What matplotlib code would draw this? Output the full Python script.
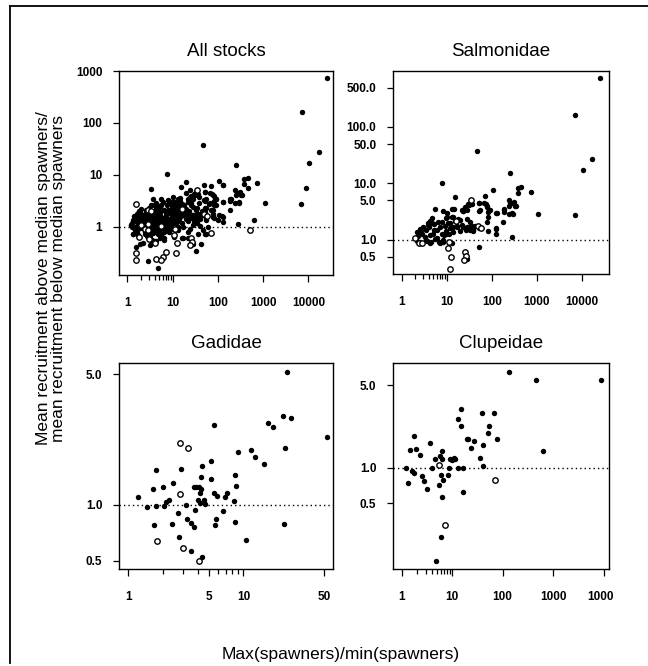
import matplotlib
matplotlib.use("Agg")
import matplotlib.pyplot as plt
from matplotlib.lines import Line2D
from matplotlib.ticker import NullFormatter
from matplotlib.transforms import Bbox, TransformedBbox, blended_transform_factory

plt.rcParams['font.family'] = ['Liberation Sans', 'DejaVu Sans']

# --- donnees : (max/min spawners, ratio de recrutement) ---
salmo_filled = [
    (25500, 727), (7200, 161), (16900, 27.5), (10500, 17.1), (6980, 2.74),
    (47, 38), (7.7, 10.3), (251, 15.3), (736, 7.07), (455, 8.56), (384, 8.3),
    (378, 6.7), (107, 7.77), (70, 6.1), (1070, 2.88), (283, 1.13), (52, 0.74),
    (15.3, 5.8), (182, 2.1), (127, 2.96), (127, 1.57), (127, 1.26), (188, 3.4),
    (188, 3.1), (240, 5.1), (258, 4.45), (313, 4.75), (347, 4.05), (292, 2.85),
    (240, 2.85), (81, 1.46),
    (5.5, 3.5), (8.4, 3.2), (10.0, 3.05), (14.8, 3.6), (23.4, 3.2), (27.8, 3.4),
    (31, 4.2), (36, 4.3), (53, 4.6), (68, 4.45), (77, 4.05), (53, 3.2), (84, 3.1),
    (93, 3.4), (84, 2.6), (77, 2.1), (53, 1.65), (36, 1.8), (33, 1.5), (39, 1.46),
    (27, 1.5), (28, 1.7), (23, 3.2), (20, 2.26), (21.5, 1.84), (13.6, 2.6),
    (15.3, 2.2), (16.7, 1.72), (14.1, 1.4), (10, 2.6), (10.9, 2.0), (11.9, 1.6),
    (9.7, 1.3), (6.5, 2.1), (7.1, 1.72), (7.7, 1.3), (6.0, 1.5), (8.4, 1.0),
    (4.6, 2.0), (5.1, 1.5), (4.3, 1.23), (5.5, 1.03), (3.5, 1.5), (3.9, 1.84),
    (3.3, 1.15), (2.8, 1.3), (3.7, 0.97), (2.55, 1.55), (2.15, 1.4), (4.3, 0.87),
    (4.5, 0.93), (7.1, 0.87), (8.2, 0.93), (12.9, 0.87), (27.8, 0.47),
    (29, 4.3), (51, 4.6), (74, 4.3), (80, 3.9), (89, 3.4), (55, 3.4), (12.9, 3.5),
    (25.5, 3.9), (21.5, 3.4), (129, 3.05), (190, 3.5), (247, 4.05), (300, 4.45),
    (325, 4.05), (288, 2.96), (125, 1.6), (42, 1.75), (38, 1.5), (28, 2.4),
    (33, 2.1), (30, 1.7), (18, 2.4), (17, 1.8), (23, 1.7), (20, 1.45), (13, 2.6),
    (12, 2.0), (13.5, 1.7), (11.5, 1.3), (8.0, 2.1), (9.5, 2.5), (9.0, 1.8),
    (9.8, 1.45), (8.6, 1.25), (6.8, 0.92), (4.8, 2.5), (4.2, 2.2), (5.3, 1.9),
    (3.8, 2.0), (4.0, 1.7), (5.0, 1.3), (2.7, 1.5), (2.9, 1.7), (2.6, 1.35),
    (2.3, 1.2), (2.2, 0.97), (3.4, 1.0), (6.0, 1.1),
]
salmo_open = [
    (34, 5.2), (2.0, 1.07), (2.47, 0.9), (2.8, 0.87), (11.3, 0.93), (10.9, 0.71),
    (12.3, 0.49), (12.0, 0.31), (25.5, 0.62), (26.9, 0.52), (24, 0.44),
    (49, 1.8), (57, 1.6), (16, 2.2),
]

gadid_filled = [
    (24.1, 5.13), (5.6, 2.66), (16.5, 2.75), (17.9, 2.59), (22, 2.97), (25.8, 2.92),
    (53, 2.29), (23.2, 2.01), (8.9, 1.91), (11.7, 1.96), (12.5, 1.79), (15.1, 1.65),
    (5.27, 1.71), (4.37, 1.62), (1.73, 1.54), (2.87, 1.55), (4.31, 1.4), (5.27, 1.38),
    (8.4, 1.44), (8.7, 1.26), (2.43, 1.31), (1.64, 1.22), (2.0, 1.24), (3.7, 1.25),
    (3.9, 1.25), (4.1, 1.25), (4.3, 1.22), (4.2, 1.15), (1.22, 1.1), (5.52, 1.16),
    (5.86, 1.12), (6.9, 1.1), (7.2, 1.16), (8.3, 1.05), (2.14, 1.03), (2.27, 1.06),
    (4.05, 1.06), (4.2, 1.02), (4.5, 1.06), (4.6, 1.01), (1.75, 0.98), (2.03, 0.98),
    (1.44, 0.97), (3.18, 1.0), (2.69, 0.9), (3.8, 0.94), (6.6, 0.92), (3.24, 0.84),
    (5.82, 0.84), (8.5, 0.81), (1.67, 0.78), (2.41, 0.79), (3.53, 0.8), (3.73, 0.76),
    (5.71, 0.78), (22.4, 0.79), (2.74, 0.67), (10.6, 0.65), (3.51, 0.565),
    (4.37, 0.527),
]
gadid_open = [(2.83, 2.15), (3.28, 2.0), (2.83, 1.14), (1.79, 0.64), (3.01, 0.59),
              (4.12, 0.5)]

clupe_filled = [
    (131, 6.5), (463, 5.57), (8700, 5.57), (14.9, 3.16), (38.9, 2.89), (66, 2.92),
    (13.2, 2.6), (14.9, 2.26), (54, 2.27), (52, 1.98), (78, 1.74), (1.75, 1.86),
    (19.4, 1.74), (21, 1.76), (26.7, 1.67), (3.58, 1.61), (1.46, 1.42), (1.92, 1.43),
    (23.2, 1.46), (40, 1.57), (637, 1.39), (2.3, 1.27), (6.28, 1.39), (4.63, 1.18),
    (5.65, 1.26), (6.28, 1.18), (8.9, 1.19), (9.9, 1.16), (10.9, 1.22), (11.5, 1.18),
    (35, 1.21), (41, 1.04), (1.24, 1.0), (1.6, 0.94), (1.75, 0.90), (3.98, 1.0),
    (8.5, 1.0), (13, 0.99), (16.6, 0.99), (2.56, 0.85), (2.77, 0.77), (1.33, 0.74),
    (3.13, 0.66), (5.9, 0.87), (6.5, 0.79), (5.55, 0.72), (8.4, 0.87), (16.4, 0.62),
    (6.4, 0.57), (6.1, 0.257), (4.84, 0.161),
]
clupe_open = [(5.48, 1.05), (69.5, 0.78), (7.3, 0.33)]

# stocks des autres familles (visibles seulement dans "All stocks")
other_filled = [
    (3.3, 5.3), (20, 7.4), (100, 1.35), (108, 1.68), (42, 0.48), (33, 0.35),
    (2.9, 0.22), (128, 6.4), (50, 6.4), (1.58, 0.41), (1.87, 0.46), (2.2, 0.49),
    (3.1, 0.44), (3.4, 0.57), (4.0, 0.54), (5.4, 0.6), (6.6, 0.62), (1.72, 0.69),
    (2.4, 0.74), (4.75, 0.74), (16.9, 0.62), (21.8, 0.62), (3.4, 2.6), (3.7, 3.5),
    (2.6, 2.1), (2.0, 1.8), (1.72, 1.56), (1.33, 1.35), (1.23, 1.08), (1.45, 0.89),
    (1.33, 0.74), (7.9, 3.3), (10.2, 3.8), (12.1, 3.05), (20, 4.4), (23.7, 3.8),
    (33, 4.75), (39, 3.8), (50, 3.3), (65, 2.8), (71, 2.1), (92, 2.6), (77, 1.56),
    (55, 1.35), (60, 1.0), (46, 0.86), (36, 0.74), (55, 0.74), (23.7, 0.93),
    (28, 1.08), (2.2, 1.3), (2.5, 1.1), (2.8, 1.6), (3.0, 2.3), (3.5, 1.9),
    (3.9, 1.4), (4.3, 1.1), (4.8, 1.8), (5.2, 2.4), (5.8, 1.5), (6.3, 1.2),
    (6.9, 2.0), (7.5, 2.6), (8.1, 1.4), (8.8, 1.1), (9.5, 2.2), (10.5, 1.7),
    (11.5, 2.4), (12.5, 1.25), (13.8, 2.0), (1.3, 1.2), (1.5, 1.0), (1.7, 1.15),
    (1.9, 1.4), (2.1, 0.95), (2.4, 0.85), (2.7, 1.0), (3.1, 0.9), (3.6, 0.8),
    (4.1, 0.92), (4.6, 0.85), (5.1, 0.95), (5.7, 0.82), (6.1, 0.97), (7.0, 0.88),
    (7.8, 0.95), (9.0, 0.9), (1.4, 1.6), (1.6, 1.8), (1.8, 2.0), (2.0, 2.2),
    (2.3, 1.7), (2.6, 1.9), (3.3, 1.6), (3.8, 2.6), (4.4, 2.9), (6.0, 3.0),
    (8.5, 2.9), (16.5, 1.2), (18.5, 1.9), (22, 1.3), (26, 2.6), (30, 1.25),
    (35, 2.3), (40, 1.4), (45, 2.0),
]
other_open = [(1.58, 2.8), (500, 0.89), (1.55, 0.31), (1.55, 0.23), (4.4, 0.24),
              (6.2, 0.26), (5.5, 0.23)]

all_filled = salmo_filled + gadid_filled + clupe_filled + other_filled
all_open = salmo_open + gadid_open + clupe_open + other_open

W, H = 648, 666
fig = plt.figure(figsize=(W / 100, H / 100), dpi=100)


def panneau(box, titre, pleins, vides, xlim, ylim, xmaj, xlab, xmin, ymaj, ylab):
    l, t, r, b = box
    ax = fig.add_axes([l / W, 1 - b / H, (r - l) / W, (b - t) / H])
    ax.set_xscale('log')
    ax.set_yscale('log')
    ax.axhline(1, color='black', lw=1.0, ls=(0, (1, 2.2)), zorder=1)
    xs, ys = zip(*pleins)
    ax.plot(xs, ys, 'o', ms=3.9, color='black', mew=0, zorder=3)
    xs, ys = zip(*vides)
    ax.plot(xs, ys, 'o', ms=3.9, mfc='white', mec='black', mew=1.0, zorder=3)
    ax.set_xlim(*xlim)
    ax.set_ylim(*ylim)
    ax.set_xticks(xmaj)
    ax.set_xticklabels(xlab, fontsize=8.5, fontweight='bold')
    ax.set_xticks(xmin, minor=True)
    ax.xaxis.set_minor_formatter(NullFormatter())
    ax.set_yticks(ymaj)
    ax.set_yticklabels(ylab, fontsize=8.5, fontweight='bold')
    ax.set_yticks([], minor=True)
    ax.tick_params(axis='x', which='major', direction='out', length=5, width=0.9, pad=11)
    ax.tick_params(axis='x', which='minor', direction='out', length=3.5, width=0.9)
    ax.tick_params(axis='y', direction='out', length=4, width=0.9, pad=8)
    for s in ax.spines.values():
        s.set_linewidth(1.0)
    fig.text((l + r) / 2 / W, 1 - (t - 20) / H, titre, ha='center', va='center',
             fontsize=13.5)
    return ax


decade_min = [2, 3, 4, 5, 6, 7, 8, 9]

panneau((119, 71, 333, 275), 'All stocks', all_filled, all_open,
        (0.655, 34800), (0.119, 1000),
        [1, 10, 100, 1000, 10000], ['1', '10', '100', '1000', '10000'], decade_min,
        [1, 10, 100, 1000], ['1', '10', '100', '1000'])

panneau((393, 71, 609, 274), 'Salmonidae', salmo_filled, salmo_open,
        (0.64, 40400), (0.25, 980),
        [1, 10, 100, 1000, 10000], ['1', '10', '100', '1000', '10000'], decade_min,
        [0.5, 1, 5, 10, 50, 100, 500],
        ['0.5', '1.0', '5.0', '10.0', '50.0', '100.0', '500.0'])

panneau((119, 363, 333, 569), 'Gadidae', gadid_filled, gadid_open,
        (0.83, 60), (0.453, 5.73),
        [1, 5, 10, 50], ['1', '5', '10', '50'], [2, 3, 4, 6, 7, 8, 9],
        [0.5, 1, 5], ['0.5', '1.0', '5.0'])

ax4 = panneau((393, 363, 609, 569), 'Clupeidae', clupe_filled, clupe_open,
              (0.67, 12800), (0.139, 7.7),
              [1, 10, 100, 1000, 10000], ['1', '10', '100', '1000', ''], decade_min,
              [0.5, 1, 5], ['0.5', '1.0', '5.0'])
# etiquette 10000 coupee au bord du scan
trans = blended_transform_factory(ax4.transData, ax4.transAxes)
lab = ax4.text(10000, -(597 - 569) / (569 - 363), '10000', transform=trans,
               ha='center', va='center', fontsize=8.5, fontweight='bold')
lab.set_clip_box(TransformedBbox(Bbox([[0, 0], [613 / W, 1]]), fig.transFigure))
lab.set_clip_on(True)

fig.text(51 / W, 1 - 278 / H,
         'Mean recruitment above median spawners/\nmean recruitment below median spawners',
         rotation=90, ha='center', va='center', fontsize=12.5, linespacing=1.0)
fig.text(341 / W, 1 - 655 / H, 'Max(spawners)/min(spawners)', ha='center',
         va='center', fontsize=12.5)

# cadre de la page (bord gauche et haut)
fig.add_artist(Line2D([10 / W, 10 / W], [1 - 663 / H, 1 - 6 / H], color='black', lw=1.3))
fig.add_artist(Line2D([10 / W, 1], [1 - 6 / H, 1 - 6 / H], color='black', lw=1.3))

fig.savefig('out.png', dpi=100)
